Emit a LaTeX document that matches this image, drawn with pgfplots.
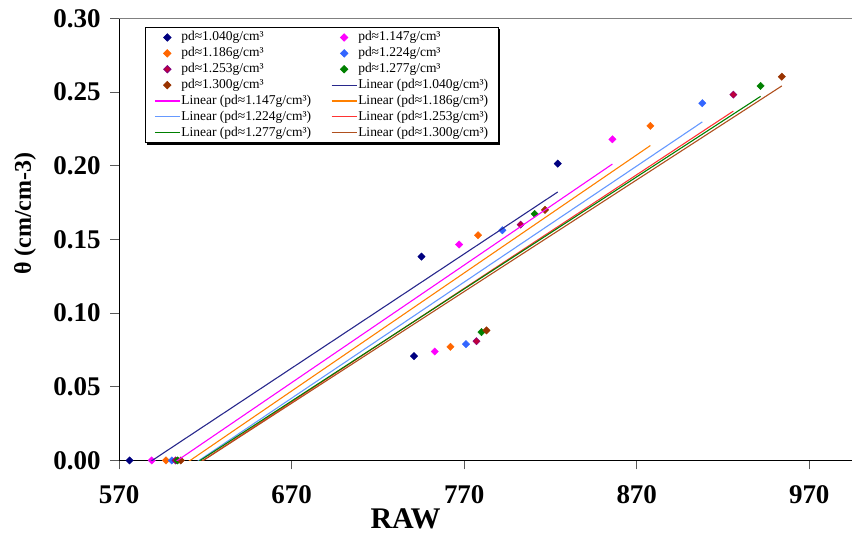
\documentclass[border=0pt]{standalone}
\usepackage{fontspec}
\setmainfont{Liberation Serif}
\usepackage{pgfplots}
\pgfplotsset{compat=1.18}
\usepackage{pgfplotstable}

% marker and trend-line colours, one pair per bulk density
\definecolor{mA}{RGB}{0,0,128}     \definecolor{lA}{RGB}{40,40,140}
\definecolor{mB}{RGB}{255,0,255}   \definecolor{lB}{RGB}{255,0,255}
\definecolor{mC}{RGB}{255,102,0}   \definecolor{lC}{RGB}{255,128,0}
\definecolor{mD}{RGB}{51,102,255}  \definecolor{lD}{RGB}{102,153,255}
\definecolor{mE}{RGB}{190,0,60}    \definecolor{mEd}{RGB}{128,0,128} \definecolor{lE}{RGB}{255,51,51}
\definecolor{mF}{RGB}{0,128,0}     \definecolor{lF}{RGB}{0,128,0}
\definecolor{mG}{RGB}{153,51,0}    \definecolor{lG}{RGB}{176,80,30}

% RAW reading vs. volumetric water content
\pgfplotstableread{
x y
576.0 0
740.9 0.0708
745.2 0.1383
824.2 0.2014
}\tA
\pgfplotstableread{
x y
588.8 0
752.9 0.0739
767.0 0.1465
855.9 0.2179
}\tB
\pgfplotstableread{
x y
597.1 0
762.0 0.0771
778.0 0.1528
877.9 0.2270
}\tC
\pgfplotstableread{
x y
600.5 0
771.0 0.0789
792.1 0.1562
908.0 0.2424
}\tD
\pgfplotstableread{
x y
602.7 0
777.1 0.0809
802.7 0.1600
926.0 0.2482
}\tE
\pgfplotstableread{
x y
603.8 0
780.0 0.0871
810.8 0.1673
941.8 0.2541
}\tF
\pgfplotstableread{
x y
605.7 0
782.9 0.0882
816.8 0.1700
954.1 0.2604
}\tG

\pgfplotsset{
  mk/.style={only marks, mark=square*, mark size=2.6pt,
    mark options={rotate=45, draw=#1, fill=#1},
    legend image code/.code={\draw[mark repeat=2,mark phase=2,##1]
      plot coordinates {(0pt,0pt)(12.5pt,0pt)(25pt,0pt)};}},
  fit/.style={no markers, draw=#1, line width=1.1pt,
    legend image code/.code={\draw[##1] (0pt,0pt) -- (25pt,0pt);}},
}

\begin{document}
\begin{tikzpicture}
\begin{axis}[
  scale only axis, width=732.7pt, height=442.4pt,
  xmin=570, xmax=994.5, ymin=0, ymax=0.30,
  axis x line=bottom, axis y line=left,
  axis line style={-, black, line width=0.9pt},
  xtick={570,670,770,870,970},
  ytick={0,0.05,0.10,0.15,0.20,0.25,0.30},
  tick align=outside, major tick length=9pt,
  tick style={black!65, line width=0.9pt},
  /pgf/number format/assume math mode=true,
  ticklabel style={font=\fontsize{27}{30}\selectfont\bfseries},
  yticklabel style={/pgf/number format/fixed, /pgf/number format/fixed zerofill,
    /pgf/number format/precision=2, xshift=-6pt},
  xticklabel style={yshift=-13pt},
  xlabel={RAW},
  xlabel style={at={(rel axis cs:0.391,-0.131)}, anchor=center,
    font=\fontsize{30}{32}\selectfont\bfseries},
  ylabel={θ (cm/cm-3)},
  ylabel style={at={(rel axis cs:-0.1287,0.558)}, anchor=center,
    font=\fontsize{24}{26}\selectfont\bfseries},
  clip mode=individual,
  legend columns=2,
  legend cell align=left,
  legend style={at={(rel axis cs:0.035,0.980)}, anchor=north west,
    name=leg, draw=black, line width=0.8pt, fill=white,
    font=\fontsize{13.5}{15}\selectfont,
    inner xsep=9pt, inner ysep=2pt, row sep=0pt,
    nodes={inner sep=1pt, text height=10.3pt, text depth=3.6pt},
    /tikz/every even column/.append style={column sep=19pt}},
]
\addplot[mk=mA] table[x=x,y=y] {\tA}; \addlegendentry{pd≈1.040g/cm³}
\addplot[mk=mB] table[x=x,y=y] {\tB}; \addlegendentry{pd≈1.147g/cm³}
\addplot[mk=mC] table[x=x,y=y] {\tC}; \addlegendentry{pd≈1.186g/cm³}
\addplot[mk=mD] table[x=x,y=y] {\tD}; \addlegendentry{pd≈1.224g/cm³}
\addplot[mk=mE, mark options={rotate=45, draw=mEd, fill=mE}] table[x=x,y=y] {\tE}; \addlegendentry{pd≈1.253g/cm³}
\addplot[mk=mF] table[x=x,y=y] {\tF}; \addlegendentry{pd≈1.277g/cm³}
\addplot[mk=mG] table[x=x,y=y] {\tG}; \addlegendentry{pd≈1.300g/cm³}

\addplot[fit=lA] table[x=x, y={create col/linear regression={y=y}}] {\tA}; \addlegendentry{Linear (pd≈1.040g/cm³)}
\addplot[fit=lB] table[x=x, y={create col/linear regression={y=y}}] {\tB}; \addlegendentry{Linear (pd≈1.147g/cm³)}
\addplot[fit=lC] table[x=x, y={create col/linear regression={y=y}}] {\tC}; \addlegendentry{Linear (pd≈1.186g/cm³)}
\addplot[fit=lD] table[x=x, y={create col/linear regression={y=y}}] {\tD}; \addlegendentry{Linear (pd≈1.224g/cm³)}
\addplot[fit=lE] table[x=x, y={create col/linear regression={y=y}}] {\tE}; \addlegendentry{Linear (pd≈1.253g/cm³)}
\addplot[fit=lF] table[x=x, y={create col/linear regression={y=y}}] {\tF}; \addlegendentry{Linear (pd≈1.277g/cm³)}
\addplot[fit=lG] table[x=x, y={create col/linear regression={y=y}}] {\tG}; \addlegendentry{Linear (pd≈1.300g/cm³)}
\end{axis}
% gray top rule and the legend's shadow edge
\draw[black!50, line width=1pt] (current axis.north west) -- (current axis.north east);
\draw[black, line width=1.5pt] ([shift={(2pt,-0.75pt)}]leg.south west) -- ([shift={(0.75pt,-0.75pt)}]leg.south east) -- ([shift={(0.75pt,-2pt)}]leg.north east);
\path ([shift={(-119.3pt,-74.3pt)}]current axis.south west) rectangle ([shift={(0pt,18.3pt)}]current axis.north east);
\end{tikzpicture}
\end{document}
